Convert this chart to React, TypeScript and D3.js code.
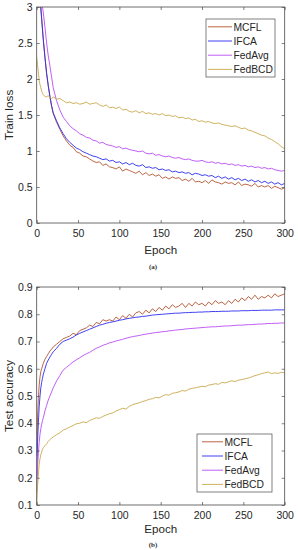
import React, { useEffect, useRef } from "react";
import * as d3 from "d3";

const methods = ["MCFL", "IFCA", "FedAvg", "FedBCD"];
const colors = ["#b4542f", "#2b2bf0", "#b94cf5", "#c9a84c"];

const epochs = [
  0, 1, 2, 3, 4, 5, 6, 7, 8, 10, 12, 14, 16, 18,
  20, 24, 28, 32, 36, 40, 44, 48, 52, 56,
  60, 64, 68, 72, 76, 80, 84, 88, 92, 96,
  100, 104, 108, 112, 116, 120, 124, 128, 132, 136,
  140, 144, 148, 152, 156, 160, 164, 168, 172, 176,
  180, 184, 188, 192, 196, 200, 204, 208, 212, 216,
  220, 224, 228, 232, 236, 240, 244, 248, 252, 256,
  260, 264, 268, 272, 276, 280, 284, 288, 292, 296,
  300
];

// (a) train loss
const lossMCFL = [
  4.6, 4.1, 3.7, 3.4, 3.15, 3.0, 2.85, 2.7, 2.55, 2.3, 2.07, 1.9, 1.75, 1.62,
  1.52, 1.40, 1.30, 1.21, 1.14, 1.08, 1.05, 0.99, 0.97, 0.93,
  0.92, 0.89, 0.86, 0.84, 0.85, 0.80, 0.82, 0.78, 0.77, 0.75,
  0.78, 0.72, 0.75, 0.73, 0.71, 0.69, 0.72, 0.67, 0.70, 0.66,
  0.68, 0.65, 0.67, 0.62, 0.64, 0.61, 0.64, 0.62, 0.63, 0.59,
  0.61, 0.58, 0.62, 0.57, 0.58, 0.56, 0.59, 0.55, 0.60, 0.57,
  0.56, 0.54, 0.57, 0.55, 0.56, 0.53, 0.57, 0.52, 0.54, 0.53,
  0.51, 0.55, 0.50, 0.52, 0.50, 0.52, 0.48, 0.51, 0.49, 0.47,
  0.49
];
const lossIFCA = [
  4.5, 4.0, 3.65, 3.35, 3.12, 2.97, 2.83, 2.68, 2.54, 2.3, 2.08, 1.91, 1.76, 1.63,
  1.53, 1.42, 1.32, 1.24, 1.17, 1.12, 1.08, 1.04, 1.02, 0.99,
  0.97, 0.95, 0.93, 0.92, 0.90, 0.88, 0.89, 0.86, 0.87, 0.84,
  0.85, 0.82, 0.84, 0.81, 0.83, 0.80, 0.79, 0.81, 0.77, 0.78,
  0.76, 0.77, 0.74, 0.75, 0.73, 0.74, 0.71, 0.72, 0.70, 0.71,
  0.69, 0.70, 0.67, 0.69, 0.68, 0.66, 0.67, 0.65, 0.66, 0.63,
  0.65, 0.62, 0.64, 0.61, 0.63, 0.60, 0.62, 0.59, 0.61, 0.58,
  0.60, 0.57, 0.59, 0.56, 0.58, 0.55, 0.57, 0.54, 0.56, 0.53,
  0.55
];
const lossFedAvg = [
  4.2, 3.9, 3.65, 3.45, 3.3, 3.17, 3.08, 3.0, 2.92, 2.72, 2.5, 2.32, 2.18, 2.03,
  1.88, 1.70, 1.57, 1.47, 1.41, 1.35, 1.31, 1.28, 1.24, 1.22,
  1.19, 1.18, 1.15, 1.14, 1.11, 1.12, 1.09, 1.08, 1.07, 1.05,
  1.06, 1.03, 1.04, 1.02, 1.01, 1.00, 0.99, 1.00, 0.97, 0.96,
  0.97, 0.94, 0.95, 0.93, 0.92, 0.93, 0.91, 0.90, 0.91, 0.89,
  0.88, 0.89, 0.87, 0.86, 0.86, 0.87, 0.85, 0.84, 0.85, 0.83,
  0.84, 0.82, 0.83, 0.81, 0.82, 0.80, 0.81, 0.79, 0.80, 0.78,
  0.79, 0.77, 0.78, 0.76, 0.77, 0.75, 0.76, 0.74, 0.73, 0.72,
  0.73
];
const lossFedBCD = [
  2.3, 2.2, 2.1, 1.98, 1.92, 1.88, 1.83, 1.8, 1.78, 1.76, 1.75, 1.77, 1.74, 1.73,
  1.75, 1.72, 1.73, 1.70, 1.67, 1.68, 1.66, 1.67, 1.65, 1.66,
  1.68, 1.65, 1.66, 1.67, 1.64, 1.62, 1.64, 1.60, 1.61, 1.59,
  1.61, 1.57, 1.58, 1.55, 1.54, 1.56, 1.53, 1.55, 1.52, 1.53,
  1.51, 1.52, 1.50, 1.52, 1.49, 1.50, 1.48, 1.49, 1.46, 1.47,
  1.45, 1.46, 1.43, 1.44, 1.41, 1.42, 1.40, 1.41, 1.39, 1.38,
  1.39, 1.37, 1.36, 1.35, 1.34, 1.35, 1.33, 1.31, 1.32, 1.29,
  1.28, 1.26, 1.24, 1.22, 1.21, 1.18, 1.16, 1.13, 1.10, 1.06,
  1.03
];

// (b) test accuracy
const accMCFL = [
  0.28, 0.42, 0.49, 0.54, 0.57, 0.59, 0.6, 0.61, 0.62, 0.635, 0.645, 0.655, 0.665, 0.672,
  0.68, 0.69, 0.70, 0.71, 0.715, 0.72, 0.73, 0.725, 0.74, 0.745,
  0.75, 0.76, 0.755, 0.77, 0.765, 0.78, 0.775, 0.78, 0.775, 0.79,
  0.78, 0.795, 0.785, 0.80, 0.79, 0.805, 0.81, 0.80, 0.815, 0.805,
  0.82, 0.81, 0.825, 0.815, 0.83, 0.82, 0.835, 0.825, 0.83, 0.84,
  0.825, 0.84, 0.83, 0.845, 0.835, 0.84, 0.83, 0.845, 0.835, 0.85,
  0.84, 0.845, 0.835, 0.85, 0.84, 0.855, 0.845, 0.86, 0.85, 0.865,
  0.855, 0.87, 0.855, 0.865, 0.86, 0.87, 0.86, 0.875, 0.865, 0.87,
  0.875
];
const accIFCA = [
  0.2, 0.33, 0.4, 0.46, 0.5, 0.53, 0.55, 0.565, 0.58, 0.6, 0.62, 0.632, 0.643, 0.653,
  0.662, 0.675, 0.69, 0.70, 0.705, 0.71, 0.716, 0.724, 0.73, 0.735,
  0.74, 0.745, 0.75, 0.755, 0.76, 0.763, 0.767, 0.77, 0.772, 0.775,
  0.778, 0.78, 0.783, 0.785, 0.787, 0.789, 0.79, 0.792, 0.793, 0.795,
  0.797, 0.798, 0.799, 0.80, 0.801, 0.802, 0.803, 0.804, 0.804, 0.805,
  0.806, 0.806, 0.807, 0.807, 0.808, 0.808, 0.809, 0.809, 0.81, 0.81,
  0.81, 0.811, 0.811, 0.811, 0.812, 0.812, 0.812, 0.813, 0.813, 0.813,
  0.814, 0.814, 0.814, 0.815, 0.815, 0.815, 0.815, 0.816, 0.816, 0.816,
  0.816
];
const accFedAvg = [
  0.15, 0.24, 0.29, 0.33, 0.36, 0.38, 0.395, 0.41, 0.42, 0.445, 0.465, 0.485, 0.5, 0.515,
  0.53, 0.555, 0.575, 0.595, 0.605, 0.615, 0.625, 0.633, 0.64, 0.648,
  0.655, 0.66, 0.668, 0.675, 0.68, 0.686, 0.69, 0.695, 0.698, 0.702,
  0.705, 0.708, 0.712, 0.715, 0.718, 0.72, 0.722, 0.725, 0.727, 0.729,
  0.731, 0.733, 0.734, 0.736, 0.737, 0.739, 0.74, 0.742, 0.743, 0.744,
  0.746, 0.747, 0.748, 0.749, 0.75, 0.751, 0.752, 0.753, 0.754, 0.754,
  0.755, 0.756, 0.757, 0.757, 0.758, 0.759, 0.76, 0.76, 0.761, 0.762,
  0.762, 0.763, 0.764, 0.764, 0.765, 0.766, 0.766, 0.767, 0.767, 0.768,
  0.768
];
const accFedBCD = [
  0.1, 0.17, 0.21, 0.25, 0.27, 0.285, 0.295, 0.305, 0.31, 0.318, 0.325, 0.333, 0.34, 0.345,
  0.35, 0.358, 0.365, 0.375, 0.38, 0.386, 0.392, 0.398, 0.4, 0.405,
  0.402, 0.41, 0.415, 0.42, 0.418, 0.425, 0.43, 0.435, 0.438, 0.445,
  0.45, 0.455, 0.452, 0.462, 0.468, 0.472, 0.475, 0.48, 0.483, 0.488,
  0.49, 0.495, 0.493, 0.5, 0.505, 0.503, 0.51, 0.512, 0.515, 0.52,
  0.518, 0.525, 0.528, 0.53, 0.533, 0.536, 0.534, 0.54, 0.542, 0.545,
  0.543, 0.55, 0.548, 0.552, 0.556, 0.553, 0.558, 0.56, 0.563, 0.566,
  0.57, 0.575, 0.578, 0.582, 0.585, 0.588, 0.582, 0.585, 0.583, 0.587,
  0.585
];

const epochTicks = [0, 50, 100, 150, 200, 250, 300];
const lossTicks = [0, 0.5, 1, 1.5, 2, 2.5, 3];
const accTicks = [0.1, 0.2, 0.3, 0.4, 0.5, 0.6, 0.7, 0.8, 0.9];

const FONT = "'Liberation Sans', Arial, Helvetica, sans-serif";
const AXIS_COLOR = "#4a4a4a";
const TEXT_COLOR = "#262626";

function drawPanel(svg, cfg) {
  const { id, top, bottom, domain, ticks, ylabel, series, legend, caption, xlabelGap, captionGap } = cfg;
  const left = 36.7,
    right = 284.7;

  const x = d3.scaleLinear().domain([0, 300]).range([left, right]);
  const y = d3.scaleLinear().domain(domain).range([bottom, top]);

  const g = svg.append("g");

  // clip the curves to the plot box
  svg
    .append("defs")
    .append("clipPath")
    .attr("id", "clip-" + id)
    .append("rect")
    .attr("x", left)
    .attr("y", top)
    .attr("width", right - left)
    .attr("height", bottom - top);

  const line = d3
    .line()
    .x((d) => x(d[0]))
    .y((d) => y(d[1]));

  const lines = g.append("g").attr("clip-path", "url(#clip-" + id + ")");
  series.forEach((vals, i) => {
    lines
      .append("path")
      .datum(epochs.map((e, j) => [e, vals[j]]))
      .attr("d", line)
      .style("fill", "none")
      .style("stroke", colors[i])
      .style("stroke-width", "0.9px")
      .style("stroke-linejoin", "round");
  });

  // axes with inward ticks, MATLAB style box
  const fmt = (d) => String(d);
  const styleAxis = (sel) => {
    sel.select(".domain").remove();
    sel.selectAll(".tick line").style("stroke", AXIS_COLOR).style("stroke-width", "0.7px");
    sel
      .selectAll(".tick text")
      .style("fill", TEXT_COLOR)
      .style("font-family", FONT)
      .style("font-size", "10.5px");
  };

  g.append("g")
    .attr("transform", "translate(0," + bottom + ")")
    .call(d3.axisBottom(x).tickValues(epochTicks).tickFormat(fmt).tickSizeInner(-3).tickSizeOuter(0).tickPadding(6.5))
    .call(styleAxis);
  g.append("g")
    .attr("transform", "translate(0," + top + ")")
    .call(d3.axisTop(x).tickValues(epochTicks).tickFormat(() => "").tickSizeInner(-3).tickSizeOuter(0))
    .call(styleAxis);
  g.append("g")
    .attr("transform", "translate(" + left + ",0)")
    .call(d3.axisLeft(y).tickValues(ticks).tickFormat(fmt).tickSizeInner(-3).tickSizeOuter(0).tickPadding(4))
    .call(styleAxis);
  g.append("g")
    .attr("transform", "translate(" + right + ",0)")
    .call(d3.axisRight(y).tickValues(ticks).tickFormat(() => "").tickSizeInner(-3).tickSizeOuter(0))
    .call(styleAxis);

  g.append("rect")
    .attr("x", left)
    .attr("y", top)
    .attr("width", right - left)
    .attr("height", bottom - top)
    .style("fill", "none")
    .style("stroke", AXIS_COLOR)
    .style("stroke-width", "0.8px");

  // axis titles
  g.append("text")
    .attr("x", (left + right) / 2)
    .attr("y", bottom + xlabelGap)
    .attr("text-anchor", "middle")
    .style("font-family", FONT)
    .style("font-size", "11.6px")
    .style("fill", TEXT_COLOR)
    .text("Epoch");

  g.append("text")
    .attr("transform", "translate(12.8," + (top + bottom) / 2 + ") rotate(-90)")
    .attr("text-anchor", "middle")
    .style("font-family", FONT)
    .style("font-size", "11.8px")
    .style("fill", TEXT_COLOR)
    .text(ylabel);

  g.append("text")
    .attr("x", 153)
    .attr("y", bottom + captionGap)
    .attr("text-anchor", "middle")
    .style("font-family", "'Liberation Serif', 'Times New Roman', serif")
    .style("font-weight", "bold")
    .style("font-size", "7px")
    .style("fill", "#333")
    .text(caption);

  // legend
  const lg = g.append("g");
  lg.append("rect")
    .attr("x", legend.x)
    .attr("y", legend.y)
    .attr("width", legend.w)
    .attr("height", legend.h)
    .style("fill", "#fff")
    .style("stroke", AXIS_COLOR)
    .style("stroke-width", "0.7px");
  methods.forEach((m, i) => {
    const cy = legend.y + 7.8 + i * 14.2;
    lg.append("line")
      .attr("x1", legend.x + legend.l1)
      .attr("x2", legend.x + legend.l2)
      .attr("y1", cy)
      .attr("y2", cy)
      .style("stroke", colors[i])
      .style("stroke-width", "0.9px");
    lg.append("text")
      .attr("x", legend.x + legend.l2 + 1.5)
      .attr("y", cy)
      .attr("dy", "0.36em")
      .style("font-family", FONT)
      .style("font-size", "10.3px")
      .style("fill", TEXT_COLOR)
      .text(m);
  });
}

function FigurePanels() {
  const ref = useRef(null);

  useEffect(() => {
    const svg = d3.select(ref.current);
    svg.selectAll("*").remove();

    drawPanel(svg, {
      id: "a",
      top: 7,
      bottom: 223,
      domain: [0, 3],
      ticks: lossTicks,
      ylabel: "Train loss",
      series: [lossMCFL, lossIFCA, lossFedAvg, lossFedBCD],
      legend: { x: 206, y: 19, w: 69, h: 58, l1: 2, l2: 26 },
      caption: "(a)",
      xlabelGap: 31,
      captionGap: 45.5
    });

    drawPanel(svg, {
      id: "b",
      top: 287,
      bottom: 505,
      domain: [0.1, 0.9],
      ticks: accTicks,
      ylabel: "Test accuracy",
      series: [accMCFL, accIFCA, accFedAvg, accFedBCD],
      legend: { x: 197, y: 434, w: 75, h: 58, l1: 5, l2: 26 },
      caption: "(b)",
      xlabelGap: 27.5,
      captionGap: 42
    });
  }, []);

  return (
    <svg
      ref={ref}
      width={298}
      height={550}
      style={{ position: "absolute", left: 0, top: 0, background: "#fff" }}
    />
  );
}

export default function App() {
  return <FigurePanels />;
}
